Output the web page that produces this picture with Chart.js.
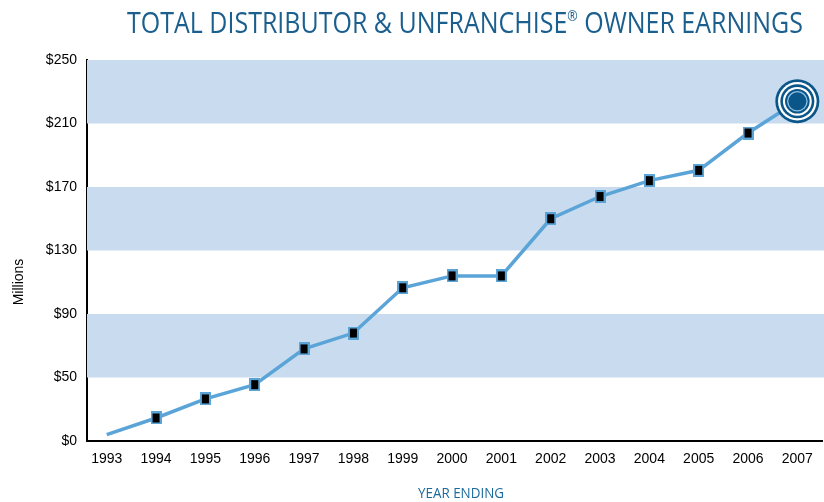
<!DOCTYPE html>
<html>
<head>
<meta charset="utf-8">
<script src="https://cdn.jsdelivr.net/npm/chart.js@4"></script>
<style>
  html, body { margin: 0; padding: 0; background: #fff; }
  #wrap { width: 824px; height: 502px; }
</style>
</head>
<body>
<div id="wrap"><canvas id="chart" width="824" height="502"></canvas></div>
<script>
const years = [1993, 1994, 1995, 1996, 1997, 1998, 1999, 2000, 2001, 2002, 2003, 2004, 2005, 2006, 2007];
const earnings = [14, 24.5, 36.5, 45.5, 68, 78, 106.5, 114, 114, 150, 164, 174, 180.5, 204, 224];
// the printed axis is evenly spaced, bottom tick reads $0 but sits where 10 would be
const tickValues = [10, 50, 90, 130, 170, 210, 250];
const tickLabels = ["$0", "$50", "$90", "$130", "$170", "$210", "$250"];
const bands = [[50, 90], [130, 170], [210, 250]];

const lineBlue = "#5aa4d8";
const darkBlue = "#0b5689";
const bandBlue = "#c9dcef";
const titleBlue = "#1b5f8e";

// black box with a blue rim, like the printed markers
const marker = document.createElement("canvas");
marker.width = 11;
marker.height = 13;
(() => {
  const c = marker.getContext("2d");
  c.fillStyle = lineBlue;
  c.fillRect(0, 0, 11, 13);
  c.fillStyle = "#000";
  c.fillRect(2, 2, 7, 9);
})();

const bandPlugin = {
  id: "bands",
  beforeDatasetsDraw(chart) {
    const { ctx, chartArea, scales: { y } } = chart;
    ctx.save();
    ctx.fillStyle = bandBlue;
    bands.forEach(([lo, hi]) => {
      const top = y.getPixelForValue(hi);
      const bot = y.getPixelForValue(lo);
      ctx.fillRect(chartArea.left, top, chart.width - chartArea.left, bot - top);
    });
    ctx.restore();
  }
};

const targetPlugin = {
  id: "target",
  afterDatasetsDraw(chart) {
    const meta = chart.getDatasetMeta(0);
    const pt = meta.data[meta.data.length - 1];
    const ctx = chart.ctx;
    const rings = [[22, darkBlue], [19.3, "#fff"], [17, darkBlue], [14.4, "#fff"], [12.3, darkBlue], [10.3, "#8fc0e6"], [9, darkBlue]];
    ctx.save();
    rings.forEach(([r, c]) => {
      ctx.beginPath();
      ctx.arc(pt.x, pt.y, r, 0, Math.PI * 2);
      ctx.fillStyle = c;
      ctx.fill();
    });
    ctx.restore();
  }
};

// squeezed text helper: draws parts left to right, fitted to a width
function drawFitted(ctx, parts, cx, baseline, width) {
  let total = 0;
  parts.forEach(p => { ctx.font = p.font; p.w = ctx.measureText(p.text).width; total += p.w; });
  const sx = width / total;
  ctx.save();
  ctx.translate(cx - width / 2, baseline);
  ctx.scale(sx, 1);
  let x = 0;
  parts.forEach(p => {
    ctx.font = p.font;
    ctx.fillText(p.text, x, p.dy || 0);
    x += p.w;
  });
  ctx.restore();
}

const textPlugin = {
  id: "texts",
  afterDraw(chart) {
    const ctx = chart.ctx;
    ctx.save();
    ctx.textAlign = "left";
    ctx.textBaseline = "alphabetic";
    ctx.fillStyle = titleBlue;
    drawFitted(ctx, [
      { text: "TOTAL DISTRIBUTOR & UNFRANCHISE", font: "30px 'Open Sans'" },
      { text: "®", font: "15px 'Open Sans'", dy: -12 },
      { text: " OWNER EARNINGS", font: "30px 'Open Sans'" }
    ], 465, 33, 676);
    ctx.fillStyle = "#1b6a9c";
    drawFitted(ctx, [{ text: "YEAR ENDING", font: "15px 'Open Sans'" }], 461, 498, 86);
    ctx.fillStyle = "#000";
    ctx.translate(23, 282);
    ctx.rotate(-Math.PI / 2);
    ctx.textAlign = "center";
    ctx.font = "14px 'Liberation Sans'";
    ctx.fillText("Millions", 0, 0);
    ctx.restore();
  }
};

new Chart(document.getElementById("chart"), {
  type: "line",
  data: {
    datasets: [{
      data: years.map((yr, i) => ({ x: yr, y: earnings[i] })),
      borderColor: lineBlue,
      borderWidth: 3.5,
      tension: 0,
      pointStyle: marker,
      pointRadius: ctx => (ctx.dataIndex === 0 || ctx.dataIndex === years.length - 1) ? 0 : 6
    }]
  },
  options: {
    responsive: false,
    animation: false,
    layout: { padding: { left: 0, right: 2, top: 60, bottom: 0 } },
    plugins: {
      legend: { display: false },
      tooltip: { enabled: false },
      title: { display: false }
    },
    scales: {
      x: {
        type: "linear",
        min: 1992.6,
        max: 2007.5,
        afterBuildTicks: scale => { scale.ticks = years.map(v => ({ value: v })); },
        ticks: {
          color: "#000",
          font: { family: "Liberation Sans", size: 14 },
          padding: 10,
          maxRotation: 0,
          autoSkip: false,
          callback: v => String(v)
        },
        grid: { display: false, drawTicks: false },
        border: { display: true, color: "#000", width: 2 },
        afterFit: scale => { scale.height = 61; }
      },
      y: {
        min: 10,
        max: 250,
        afterBuildTicks: scale => { scale.ticks = tickValues.map(v => ({ value: v })); },
        ticks: {
          color: "#000",
          font: { family: "Liberation Sans", size: 14 },
          padding: 10,
          callback: v => tickLabels[tickValues.indexOf(v)]
        },
        grid: { display: false, drawTicks: false },
        border: { display: true, color: "#000", width: 2 },
        afterFit: scale => { scale.width = 87; }
      }
    }
  },
  plugins: [bandPlugin, targetPlugin, textPlugin]
});
</script>
</body>
</html>
